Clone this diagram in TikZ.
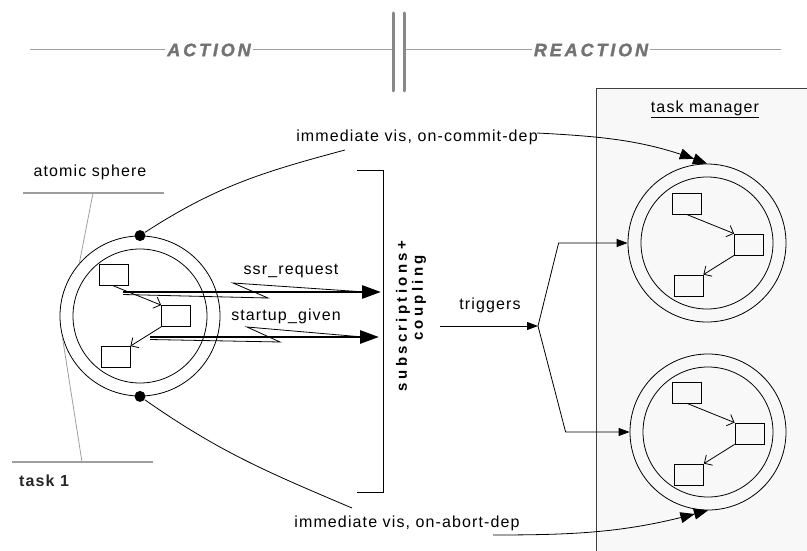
\documentclass[tikz,border=0pt]{standalone}
\usepackage{fontspec}
\setmainfont[LetterSpace=7]{Liberation Sans}
\newfontfamily\headfont[LetterSpace=16]{Liberation Sans}
\newfontfamily\spacedfont[LetterSpace=22]{Liberation Sans}
\usetikzlibrary{arrows.meta}

\definecolor{hdgray}{gray}{0.45}
\definecolor{rulegray}{gray}{0.62}
\definecolor{mgrfill}{gray}{0.972}

\tikzset{
  sphere/.style={draw,circle,minimum size=#1,inner sep=0pt},
  taskbox/.style={draw,minimum width=29pt,minimum height=21pt,inner sep=0pt},
  flow/.style={-{Straight Barb[length=6pt,width=12pt]}},
  dep/.style={-{Triangle[length=14pt,width=11pt]Triangle[length=14pt,width=11pt]}},
  event/.style={line width=2.8pt,-{Triangle[length=19pt,width=13pt]}},
  trig/.style={-{Triangle[length=11pt,width=8pt]}},
  dot/.style={circle,fill,inner sep=0pt,minimum size=11pt},
  hdline/.style={rulegray,line width=1pt},
  hd/.style={text=hdgray,inner sep=2pt,
    font=\headfont\fontsize{18}{20}\selectfont\bfseries\itshape\addfontfeature{FakeBold=1.5}},
  bar/.style={hdgray!85,line width=3pt,line cap=round},
  note/.style={rulegray,line width=1.2pt}
}

\begin{document}
\begin{tikzpicture}
[x=1pt,y=-1pt,line width=0.8pt,font=\fontsize{16}{19}\selectfont]
\useasboundingbox (0,0) rectangle (807,551);

\draw[fill=mgrfill,draw=black!75] (596,88) rectangle (820,560);
\node (tm) at (705,109) {\underline{task manager}};

% action / reaction header
\coordinate (h1) at (30,50);
\coordinate (h2) at (392,50);
\coordinate (h3) at (405,50);
\coordinate (h4) at (781,50);
\node[hd] (act) at (209,50) {ACTION};
\node[hd] (react) at (591,50) {REACTION};
\draw[hdline] (h1) -- (act) -- (h2);
\draw[hdline] (h3) -- (react) -- (h4);
\draw[bar] (393,13) -- (393,91);
\draw[bar] (404,13) -- (404,91);

% spheres with their tasks
\foreach \s/\cx/\cy/\r/\bx/\by in {L/140/316/80/113.5/275,
    U/707/243/79/686.5/203.5, D/708/432/78/687/392.5}{
  \node[sphere=2*\r] (\s) at (\cx,\cy) {};
  \node[sphere=2*\r-26] at (\cx,\cy) {};
  \node[taskbox] (\s1) at (\bx,\by) {};
  \node[taskbox] (\s2) at (\bx+62.5,\by+41) {};
  \node[taskbox] (\s3) at (\bx+2,\by+82) {};
  \draw[flow] (\s1.south) -- (\s2.north west);
  \draw[flow] (\s2.south west) -- (\s3.north east);
}

\node (as) at (90,172) {atomic sphere};
\coordinate (as1) at (23,193);
\coordinate (as2) at (164,193);
\coordinate (as3) at (93,193);
\draw[note] (as1) -- (as2);
\draw[note,line width=0.8pt] (as3) -- (L.139);
\node[font=\fontsize{16}{19}\selectfont\bfseries,text=black!85] (t1) at (44,481) {task 1};
\coordinate (tk1) at (12,462);
\coordinate (tk2) at (153,462);
\coordinate (tk3) at (82,462);
\draw[note] (tk1) -- (tk2);
\draw[note,line width=0.8pt] (tk3) -- (L.195);

% visibility dependencies
\node[dot] (dt) at (L.north) {};
\node[dot] (db) at (L.south) {};
\node (commit) at (417,137) {immediate vis, on-commit-dep};
\node (abort) at (407,523) {immediate vis, on-abort-dep};
\coordinate (c1) at (345,150);
\coordinate (c2) at (537,133);
\coordinate (a1) at (352,508);
\coordinate (a2) at (493,535);
\draw (dt) to[out=33,in=195] (c1);
\draw[dep] (c2) to[out=-3,in=160] (U.north);
\draw (db) to[out=-35,in=157] (a1);
\draw[dep] (a2) to[out=0,in=195] (D.south);

% events into subscriptions
\coordinate (bt) at (357,170);
\coordinate (bb) at (357,492);
\draw (bt) -- (383,170) -- (383,492) -- (bb);
\node[rotate=90,font=\spacedfont\fontsize{15}{18}\selectfont\bfseries] (sub) at (403,316) {subscriptions+};
\node[rotate=90,font=\spacedfont\fontsize{15}{18}\selectfont\bfseries] (cpl) at (419,298) {coupling};

\node (ssr) at (291,271) {ssr\_request};
\node (sug) at (286,316) {startup\_given};
\coordinate (e1) at (123,292);
\coordinate (e2) at (381,292);
\coordinate (e3) at (150,337);
\coordinate (e4) at (379,337);
\draw[event] (e1) -- (e2);
\draw (123,294.5) -- (268,298) -- (233,283) -- (365,292);
\draw[event] (e3) -- (e4);
\draw (150,339.5) -- (280,342) -- (247,327) -- (363,337);

% triggers
\coordinate (ts) at (440,326);
\coordinate (tg) at (538,326);
\node (trg) at (490,305) {triggers};
\draw[trig] (ts) -- (tg);
\draw[trig] (tg) -- ([xshift=-69pt]U.west) -- (U.west);
\draw[trig] (tg) -- ([xshift=-64pt]D.west) -- (D.west);
\end{tikzpicture}
\end{document}
